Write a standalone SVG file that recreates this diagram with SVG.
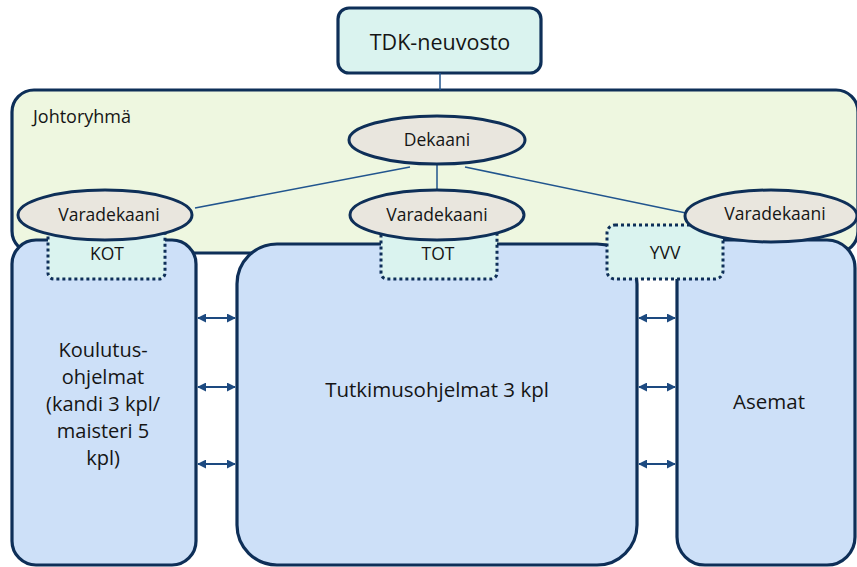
<svg xmlns="http://www.w3.org/2000/svg" width="857" height="567" viewBox="0 0 857 567">
<defs>
<marker id="ah" viewBox="0 0 10 10" refX="9" refY="5" markerWidth="9" markerHeight="9" markerUnits="userSpaceOnUse" orient="auto-start-reverse">
<path d="M0,0 L10,5 L0,10 Z" fill="#1d4a80"/>
</marker>
<style>
text{font-family:"Open Sans","Liberation Sans",sans-serif;fill:#151515;text-anchor:middle;font-weight:500}
.box{stroke:#0e2f58;stroke-width:3.2}
.blue{fill:#cde0f8}
.ell{fill:#e9e6de;stroke:#0e2f58;stroke-width:3}
.dot{fill:#daf3ef;stroke:#0e2f58;stroke-width:3;stroke-dasharray:3 3}
.ln{stroke:#21558e;stroke-width:1.5;fill:none}
.arr{stroke:#1d4a80;stroke-width:2;fill:none;marker-start:url(#ah);marker-end:url(#ah)}
</style>
</defs>
<rect width="857" height="567" fill="#ffffff"/>
<g id="tdk">
<rect class="box" x="338" y="8" width="203" height="65" rx="11" fill="#daf3ef"/>
<text x="440" y="50" font-size="21.5">TDK-neuvosto</text>
</g>
<g id="johtoryhma">
<rect class="box" x="12" y="90" width="846" height="163" rx="22" fill="#eef7e0"/>
<text x="33" y="123" font-size="18" style="text-anchor:start">Johtoryhmä</text>
</g>
<g id="koulutus">
<rect class="box blue" x="12" y="240" width="184" height="325" rx="24"/>
<text font-size="20"><tspan x="103" y="357">Koulutus-</tspan><tspan x="103" y="384">ohjelmat</tspan><tspan x="103" y="411">(kandi 3 kpl/</tspan><tspan x="103" y="438">maisteri 5</tspan><tspan x="103" y="465">kpl)</tspan></text>
</g>
<g id="tutkimus">
<rect class="box blue" x="237" y="244" width="400" height="321" rx="40"/>
<text x="437" y="397" font-size="20.5">Tutkimusohjelmat 3 kpl</text>
</g>
<g id="asemat">
<rect class="box blue" x="677" y="240" width="178" height="325" rx="28"/>
<text x="769" y="409" font-size="20.5">Asemat</text>
</g>
<g id="kot">
<rect class="dot" x="48" y="226" width="117" height="53" rx="6"/>
<text x="107" y="260" font-size="17.5">KOT</text>
</g>
<g id="tot">
<rect class="dot" x="381" y="226" width="116" height="53" rx="6"/>
<text x="438" y="260" font-size="17.5">TOT</text>
</g>
<g id="yvv">
<rect class="dot" x="607" y="225" width="116" height="54" rx="8"/>
<text x="665" y="259" font-size="17.5">YVV</text>
</g>
<g id="connectors">
<line class="ln" x1="440" y1="73" x2="440" y2="90"/>
<line class="ln" x1="410" y1="167" x2="195" y2="208"/>
<line class="ln" x1="437" y1="164" x2="437" y2="190"/>
<line class="ln" x1="465" y1="167" x2="686" y2="213"/>
<line class="arr" x1="198" y1="318" x2="235" y2="318"/>
<line class="arr" x1="198" y1="387" x2="235" y2="387"/>
<line class="arr" x1="198" y1="464" x2="235" y2="464"/>
<line class="arr" x1="639" y1="318" x2="675" y2="318"/>
<line class="arr" x1="639" y1="387" x2="675" y2="387"/>
<line class="arr" x1="639" y1="464" x2="675" y2="464"/>
</g>
<g id="dekaani">
<ellipse class="ell" cx="437" cy="140" rx="88" ry="24" stroke="#1a1a24"/>
<text x="437" y="146" font-size="17.5">Dekaani</text>
</g>
<g id="varadekaani-1">
<ellipse class="ell" cx="105" cy="215" rx="87" ry="25"/>
<text x="109" y="221" font-size="17.5">Varadekaani</text>
</g>
<g id="varadekaani-2">
<ellipse class="ell" cx="437" cy="215" rx="87" ry="25"/>
<text x="437" y="221" font-size="17.5">Varadekaani</text>
</g>
<g id="varadekaani-3">
<ellipse class="ell" cx="771" cy="216" rx="86" ry="26"/>
<text x="775" y="220" font-size="17.5">Varadekaani</text>
</g>
</svg>
